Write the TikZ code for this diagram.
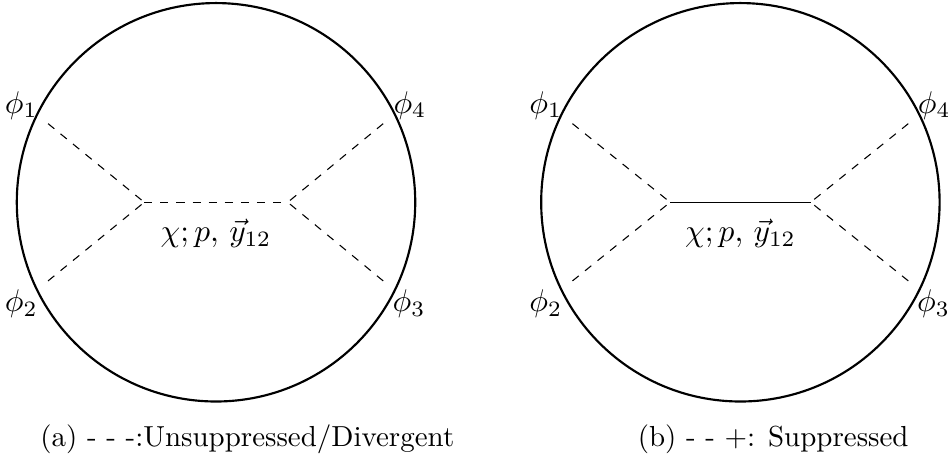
\documentclass[tikz,border=0pt]{standalone}
\usepackage{amsmath,amssymb}
\usepackage{tikz}

\begin{document}
\begin{tikzpicture}[
  blob/.style={thick},
  leg/.style={dashed},
  ext/.style={inner sep=1pt, scale=1.17, transform shape},
  mom/.style={scale=1.17, transform shape},
  capt/.style={inner sep=0pt, scale=1.08, transform shape},
]
\useasboundingbox (0,0) rectangle (12.42,5.99);

%% ---- (a): all three propagators dashed ----
\begin{scope}[shift={(2.83,3.34)}]
  \draw[blob] (0,0) circle (2.61);
  \coordinate (a1) at (-2.20,1.03);
  \coordinate (a2) at (-2.20,-1.03);
  \coordinate (a3) at (2.19,-1.03);
  \coordinate (a4) at (2.19,1.03);
  \coordinate (aL) at (-0.94,0);
  \coordinate (aR) at (0.94,0);
  \node[ext] (pa1) at (-2.55,1.27) {$\phi_1$};
  \node[ext] (pa2) at (-2.55,-1.33) {$\phi_2$};
  \node[ext] (pa3) at (2.53,-1.33) {$\phi_3$};
  \node[ext] (pa4) at (2.54,1.27) {$\phi_4$};
  \node[mom] (chia) at (0,-0.41) {$\chi; p,\, \vec{y}_{12}$};
\end{scope}
\foreach \i in {1,2} \draw[leg] (a\i) -- (aL);
\foreach \i in {3,4} \draw[leg] (a\i) -- (aR);
\draw[leg] (aL) -- (aR);

%% ---- (b): exchanged propagator solid ----
\begin{scope}[shift={(9.70,3.34)}]
  \draw[blob] (0,0) circle (2.61);
  \coordinate (b1) at (-2.20,1.03);
  \coordinate (b2) at (-2.20,-1.03);
  \coordinate (b3) at (2.20,-1.03);
  \coordinate (b4) at (2.20,1.03);
  \coordinate (bL) at (-0.92,0);
  \coordinate (bR) at (0.92,0);
  \node[ext] (pb1) at (-2.55,1.27) {$\phi_1$};
  \node[ext] (pb2) at (-2.55,-1.33) {$\phi_2$};
  \node[ext] (pb3) at (2.53,-1.33) {$\phi_3$};
  \node[ext] (pb4) at (2.54,1.27) {$\phi_4$};
  \node[mom] (chib) at (0,-0.41) {$\chi; p,\, \vec{y}_{12}$};
\end{scope}
\foreach \i in {1,2} \draw[leg] (b\i) -- (bL);
\foreach \i in {3,4} \draw[leg] (b\i) -- (bR);
\draw (bL) -- (bR);

%% ---- captions ----
\node[capt] (capa) at (3.24,0.24) {(a) - - -:Unsuppressed/Divergent};
\node[capt] (capb) at (10.13,0.24) {(b) - - $+$: Suppressed};
\end{tikzpicture}
\end{document}
